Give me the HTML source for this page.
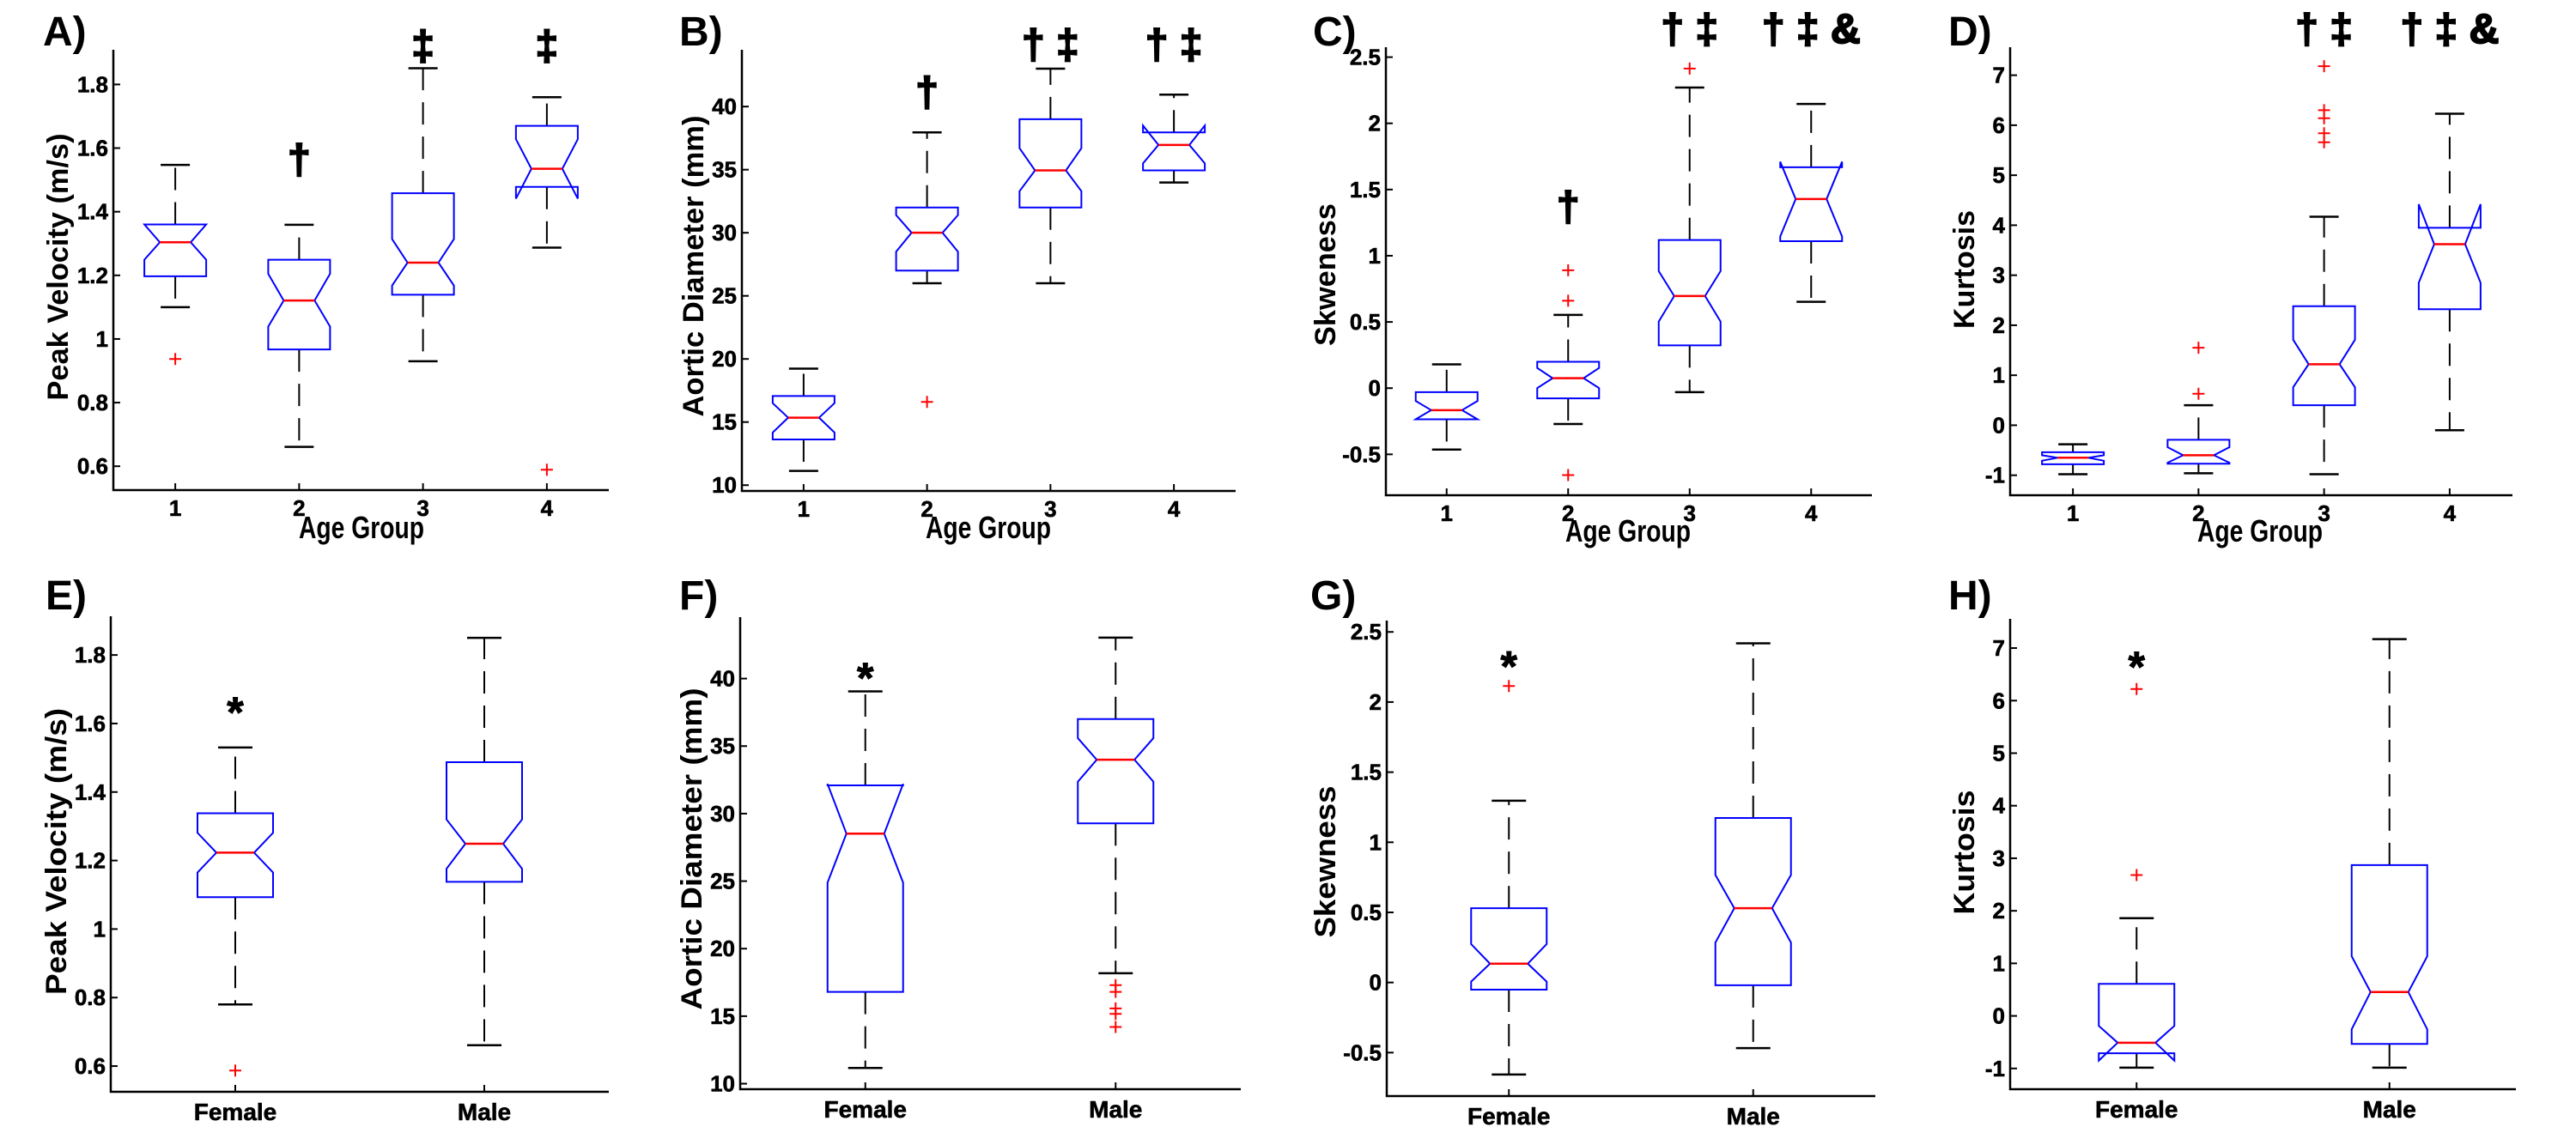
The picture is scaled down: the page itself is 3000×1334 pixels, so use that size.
<!DOCTYPE html>
<html><head><meta charset="utf-8">
<style>
html,body{margin:0;padding:0;background:#fff;}
svg{display:block;}
text{font-family:"Liberation Sans",Arial,sans-serif;font-weight:bold;fill:#000;}
</style></head>
<body>
<svg id="fig" width="3000" height="1334" viewBox="0 0 3000 1334" xmlns="http://www.w3.org/2000/svg"></svg>
<script>
// ---------- data ----------
const ageCats = ["1","2","3","4"];
const sexCats = ["Female","Male"];

const A_q1=[1.197,0.967,1.139,1.478], A_q3=[1.36,1.249,1.458,1.670], A_med=[1.304,1.121,1.240,1.535];
const A_nLo=[1.249,1.039,1.168,1.441], A_nHi=[1.36,1.205,1.314,1.628];
const A_wLo=[1.10,0.661,0.930,1.287], A_wHi=[1.547,1.359,1.851,1.76];
const A_out=[[0.937],[],[],[0.589]];
const A_ticks=[0.6,0.8,1,1.2,1.4,1.6,1.8], A_tickLabels=["0.6","0.8","1","1.2","1.4","1.6","1.8"];
const A_marks=["","†","‡","‡"], A_markVal=[0,1.559,1.917,1.917];

const B_q1=[13.62,27.0,32.0,34.94], B_q3=[17.06,32.0,39.0,37.95], B_med=[15.35,30.0,34.94,36.96];
const B_nLo=[14.17,28.5,33.3,35.5], B_nHi=[16.5,31.4,36.7,38.5];
const B_wLo=[11.13,26.0,26.0,33.98], B_wHi=[19.23,37.95,43.0,40.95];
const B_out=[[],[16.6],[],[]];
const B_ticks=[10,15,20,25,30,35,40], B_tickLabels=["10","15","20","25","30","35","40"];
const B_marks=["","†","† ‡","† ‡"], B_markVal=[0,41.04,44.8,44.8];

const C_q1=[-0.235,-0.077,0.323,1.11], C_q3=[-0.030,0.199,1.119,1.668], C_med=[-0.166,0.075,0.696,1.428];
const C_nLo=[-0.235,0.0,0.503,1.146], C_nHi=[-0.097,0.152,0.884,1.71];
const C_wLo=[-0.464,-0.271,-0.030,0.652], C_wHi=[0.18,0.553,2.27,2.146];
const C_out=[[],[0.89,0.66,-0.657],[2.414],[]];
const C_ticks=[-0.5,0,0.5,1,1.5,2,2.5], C_tickLabels=["-0.5","0","0.5","1","1.5","2","2.5"];
const C_marks=["","†","† ‡","† ‡ &"], C_markVal=[0,1.359,2.70,2.70];

const D_q1=[-0.78,-0.77,0.40,2.32], D_q3=[-0.54,-0.29,2.38,3.95], D_med=[-0.65,-0.60,1.22,3.62];
const D_nLo=[-0.71,-0.75,0.76,2.85], D_nHi=[-0.60,-0.44,1.71,4.42];
const D_wLo=[-0.98,-0.96,-0.98,-0.10], D_wHi=[-0.38,0.40,4.17,6.23];
const D_out=[[],[1.55,0.63],[7.18,6.30,6.14,5.84,5.66],[]];
const D_ticks=[-1,0,1,2,3,4,5,6,7], D_tickLabels=["-1","0","1","2","3","4","5","6","7"];
const D_marks=["","","† ‡","† ‡ &"], D_markVal=[0,0,7.89,7.89];

const E_q1=[1.093,1.138], E_q3=[1.338,1.487], E_med=[1.223,1.249];
const E_nLo=[1.165,1.176], E_nHi=[1.281,1.32];
const E_wLo=[0.780,0.661], E_wHi=[1.530,1.85];
const E_out=[[0.587],[]];
const E_ticks=A_ticks, E_tickLabels=A_tickLabels;
const E_marks=["*",""], E_markVal=[1.661,0];

const F_q1=[16.8,29.28], F_q3=[32.09,37.0], F_med=[28.52,33.99];
const F_nLo=[24.89,32.36], F_nHi=[32.2,35.59];
const F_wLo=[11.16,18.18], F_wHi=[39.05,43.03];
const F_out=[[],[17.3,16.8,15.57,15.17,14.2]];
const F_ticks=B_ticks, F_tickLabels=B_tickLabels;
const F_marks=["*",""], F_markVal=[40.76,0];

const G_q1=[-0.051,-0.02], G_q3=[0.530,1.173], G_med=[0.134,0.530];
const G_nLo=[0.006,0.285], G_nHi=[0.274,0.767];
const G_wLo=[-0.656,-0.468], G_wHi=[1.296,2.419];
const G_out=[[2.114],[]];
const G_ticks=C_ticks, G_tickLabels=C_tickLabels;
const G_marks=["*",""], G_markVal=[2.325,0];

const H_q1=[-0.71,-0.533], H_q3=[0.61,2.87], H_med=[-0.51,0.454];
const H_nLo=[-0.85,-0.255], H_nHi=[-0.19,1.135];
const H_wLo=[-0.985,-0.985], H_wHi=[1.86,7.17];
const H_out=[[6.22,2.68],[]];
const H_ticks=D_ticks, H_tickLabels=D_tickLabels;
const H_marks=["*",""], H_markVal=[6.83,0];

// ---------- layout ----------
const panels=[
 {id:"a",letter:"A)",lx:50,ly:53,x0:132,x1:709,yt:58,yb:571,ymin:0.525,ymax:1.909,cats:ageCats,q1:A_q1,q3:A_q3,med:A_med,nLo:A_nLo,nHi:A_nHi,wLo:A_wLo,wHi:A_wHi,out:A_out,ticks:A_ticks,tl:A_tickLabels,marks:A_marks,markVal:A_markVal,ylab:"Peak Velocity (m/s)",ylx:67,yly:311,yll:311,xlab:"Age Group",xlx:421,xly:627,xll:146},
 {id:"b",letter:"B)",lx:791,ly:53,x0:864,x1:1439,yt:58,yb:572,ymin:9.54,ymax:44.5,cats:ageCats,q1:B_q1,q3:B_q3,med:B_med,nLo:B_nLo,nHi:B_nHi,wLo:B_wLo,wHi:B_wHi,out:B_out,ticks:B_ticks,tl:B_tickLabels,marks:B_marks,markVal:B_markVal,ylab:"Aortic Diameter (mm)",ylx:807,yly:310,yll:351,xlab:"Age Group",xlx:1151,xly:627,xll:146},
 {id:"c",letter:"C)",lx:1529,ly:53,x0:1614,x1:2180,yt:55,yb:577,ymin:-0.809,ymax:2.575,cats:ageCats,q1:C_q1,q3:C_q3,med:C_med,nLo:C_nLo,nHi:C_nHi,wLo:C_wLo,wHi:C_wHi,out:C_out,ticks:C_ticks,tl:C_tickLabels,marks:C_marks,markVal:C_markVal,ylab:"Skweness",ylx:1543,yly:320,yll:166,xlab:"Age Group",xlx:1896,xly:631,xll:146},
 {id:"d",letter:"D)",lx:2269,ly:53,x0:2341,x1:2926,yt:55,yb:577,ymin:-1.40,ymax:7.56,cats:ageCats,q1:D_q1,q3:D_q3,med:D_med,nLo:D_nLo,nHi:D_nHi,wLo:D_wLo,wHi:D_wHi,out:D_out,ticks:D_ticks,tl:D_tickLabels,marks:D_marks,markVal:D_markVal,ylab:"Kurtosis",ylx:2287,yly:314,yll:138,xlab:"Age Group",xlx:2632,xly:631,xll:146},
 {id:"e",letter:"E)",lx:53,ly:710,x0:129,x1:709,yt:718,yb:1272,ymin:0.525,ymax:1.913,cats:sexCats,q1:E_q1,q3:E_q3,med:E_med,nLo:E_nLo,nHi:E_nHi,wLo:E_wLo,wHi:E_wHi,out:E_out,ticks:E_ticks,tl:E_tickLabels,marks:E_marks,markVal:E_markVal,ylab:"Peak Velocity (m/s)",ylx:65,yly:992,yll:334},
 {id:"f",letter:"F)",lx:791,ly:710,x0:862,x1:1445,yt:719,yb:1269,ymin:9.59,ymax:44.55,cats:sexCats,q1:F_q1,q3:F_q3,med:F_med,nLo:F_nLo,nHi:F_nHi,wLo:F_wLo,wHi:F_wHi,out:F_out,ticks:F_ticks,tl:F_tickLabels,marks:F_marks,markVal:F_markVal,ylab:"Aortic Diameter (mm)",ylx:805,yly:989,yll:375},
 {id:"g",letter:"G)",lx:1526,ly:710,x0:1615,x1:2184,yt:723,yb:1277,ymin:-0.81,ymax:2.581,cats:sexCats,q1:G_q1,q3:G_q3,med:G_med,nLo:G_nLo,nHi:G_nHi,wLo:G_wLo,wHi:G_wHi,out:G_out,ticks:G_ticks,tl:G_tickLabels,marks:G_marks,markVal:G_markVal,ylab:"Skewness",ylx:1543,yly:1004,yll:177},
 {id:"h",letter:"H)",lx:2269,ly:710,x0:2341,x1:2930,yt:721,yb:1269,ymin:-1.395,ymax:7.556,cats:sexCats,q1:H_q1,q3:H_q3,med:H_med,nLo:H_nLo,nHi:H_nHi,wLo:H_wLo,wHi:H_wHi,out:H_out,ticks:H_ticks,tl:H_tickLabels,marks:H_marks,markVal:H_markVal,ylab:"Kurtosis",ylx:2287,yly:993,yll:145}
];

const NS="http://www.w3.org/2000/svg";
const svg=document.getElementById("fig");
function mk(tag,attrs,parent){const e=document.createElementNS(NS,tag);for(const k in attrs)e.setAttribute(k,attrs[k]);(parent||svg).appendChild(e);return e;}

panels.forEach(p=>{
  const g=mk("g",{});
  
  
  const n=p.cats.length;
  const sx=v=>p.x0+(v-0.5)/n*(p.x1-p.x0);
  const sy=v=>p.yb-(v-p.ymin)/(p.ymax-p.ymin)*(p.yb-p.yt);
  const row2=n===2;
  const bw=row2?44:36, cw=row2?20:17;

  const lt=mk("text",{x:p.lx,y:p.ly,"font-size":48},g); lt.textContent=p.letter;
  
  

  const ax=mk("path",{d:`M${p.x0},${p.yt} L${p.x0},${p.yb} L${p.x1},${p.yb}`,fill:"none",stroke:"#000","stroke-width":2.5},g);
  
  

  p.ticks.forEach((t,i)=>{
    const y=sy(t);
    const tk=mk("line",{x1:p.x0,x2:p.x0+8,y1:y,y2:y,stroke:"#000","stroke-width":2},g);
    
    
    const tx=mk("text",{x:p.x0-6,y:y+9,"font-size":26,"text-anchor":"end",stroke:"#000","stroke-width":0.6},g);
    tx.textContent=p.tl[i];
    
    
  });
  p.cats.forEach((c,i)=>{
    const x=sx(i+1);
    const tk=mk("line",{x1:x,x2:x,y1:p.yb,y2:p.yb-8,stroke:"#000","stroke-width":2},g);
    
    
    const tx=mk("text",{x:x,y:p.yb+(row2?33:30),"font-size":row2?28:26,"text-anchor":"middle",stroke:"#000","stroke-width":0.6},g);
    tx.textContent=c;
    
    
  });

  const yl=mk("text",{x:0,y:0,"font-size":34,"text-anchor":"middle",transform:`translate(${p.ylx+12},${p.yly}) rotate(-90)`,textLength:p.yll,lengthAdjust:"spacingAndGlyphs"},g);
  yl.textContent=p.ylab;
  
  
  if(p.xlab){
    const xl=mk("text",{x:p.xlx,y:p.xly,"font-size":36,"text-anchor":"middle",textLength:p.xll,lengthAdjust:"spacingAndGlyphs"},g);
    xl.textContent=p.xlab;
    
    
  }

  for(let i=0;i<n;i++){
    const x=sx(i+1);
    const bg=mk("g",{},g);
    
    
    [[p.q3[i],p.wHi[i]],[p.q1[i],p.wLo[i]]].forEach(([a,b])=>{
      const w=mk("line",{x1:x,x2:x,y1:sy(a),y2:sy(b),stroke:"#000","stroke-width":2,"stroke-dasharray":"26 14"},bg);
      
      
      const cap=mk("line",{x1:x-cw,x2:x+cw,y1:sy(b),y2:sy(b),stroke:"#000","stroke-width":2.5},bg);
      
      
    });
    const L=x-bw,R=x+bw,li=x-bw/2,ri=x+bw/2;
    const pts=[[L,sy(p.q1[i])],[L,sy(p.nLo[i])],[li,sy(p.med[i])],[L,sy(p.nHi[i])],[L,sy(p.q3[i])],
               [R,sy(p.q3[i])],[R,sy(p.nHi[i])],[ri,sy(p.med[i])],[R,sy(p.nLo[i])],[R,sy(p.q1[i])]];
    const bx=mk("polygon",{points:pts.map(q=>q.join(",")).join(" "),fill:"#fff",stroke:"#0000ff","stroke-width":2},bg);
    
    
    const md=mk("line",{x1:li,x2:ri,y1:sy(p.med[i]),y2:sy(p.med[i]),stroke:"#ff0000","stroke-width":2.5},bg);
    
    
    p.out[i].forEach(v=>{
      const y=sy(v);
      const o=mk("path",{d:`M${x-7},${y} L${x+7},${y} M${x},${y-7} L${x},${y+7}`,stroke:"#ff0000","stroke-width":2,fill:"none"},bg);
      
      
    });
    const m=p.marks[i];
    if(m){
      const star=m==="*";
      const fs=star?50:48;
      const k=star?0.57:0.3;
      const t=mk("text",{x:x,y:sy(p.markVal[i])+k*fs,"font-size":fs,"text-anchor":"middle",stroke:"#000","stroke-width":star?1:2},bg);
      t.textContent=m;
      
      
    }
  }
});
</script>
</body></html>
